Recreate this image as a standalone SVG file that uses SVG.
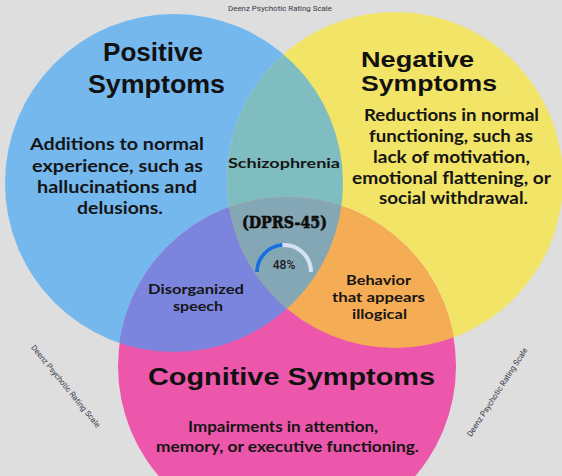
<svg xmlns="http://www.w3.org/2000/svg" width="562" height="476" viewBox="0 0 562 476">
<style>
.title{font-family:"Liberation Sans",Arial,sans-serif;font-weight:700;font-size:24px;fill:#111;}
.body{font-family:Lato,"Open Sans",sans-serif;font-weight:700;font-size:17px;fill:#151515;}
.lab{font-family:Lato,"Open Sans",sans-serif;font-weight:700;font-size:14px;fill:#151515;}
.wm{font-family:"Roboto","Liberation Sans",sans-serif;font-size:8px;fill:#3a3a4a;}
</style>
<defs>
<clipPath id="cBlue"><circle cx="174" cy="183" r="169"/></clipPath>
<clipPath id="cYellow"><circle cx="395" cy="180" r="168"/></clipPath>
</defs>
<rect x="0" y="0" width="562" height="476" fill="#dedede"/>
<g id="circles">
<circle cx="174" cy="183" r="169" fill="#75b8ee"/>
<circle cx="395" cy="180" r="168" fill="#f2e466"/>
<circle cx="287" cy="366" r="169" fill="#ec57ac"/>
<g clip-path="url(#cBlue)">
<circle cx="395" cy="180" r="168" fill="#80bdc1"/>
<circle cx="287" cy="366" r="169" fill="#7c85dd"/>
</g>
<g clip-path="url(#cYellow)">
<circle cx="287" cy="366" r="169" fill="#f5ad55"/>
</g>
<g clip-path="url(#cBlue)"><g clip-path="url(#cYellow)">
<circle cx="287" cy="366" r="169" fill="#84a7b5"/>
</g></g>
</g>
<g id="connectors"/>
<g id="positive">
<text class="title" x="103" y="61" textLength="100" lengthAdjust="spacingAndGlyphs" style="font-size:25px">Positive</text>
<text class="title" x="88" y="93" textLength="137" lengthAdjust="spacingAndGlyphs" style="font-size:25px">Symptoms</text>
<text class="body" x="30" y="150" textLength="174" lengthAdjust="spacingAndGlyphs">Additions to normal</text>
<text class="body" x="32" y="172" textLength="171" lengthAdjust="spacingAndGlyphs">experience, such as</text>
<text class="body" x="37" y="193" textLength="160" lengthAdjust="spacingAndGlyphs">hallucinations and</text>
<text class="body" x="77" y="214" textLength="86" lengthAdjust="spacingAndGlyphs">delusions.</text>
</g>
<g id="negative">
<text class="title" x="361" y="66.5" textLength="113" lengthAdjust="spacingAndGlyphs" style="font-size:22.5px">Negative</text>
<text class="title" x="361" y="91" textLength="136" lengthAdjust="spacingAndGlyphs" style="font-size:22.5px">Symptoms</text>
<text class="body" x="364" y="121" textLength="175" lengthAdjust="spacingAndGlyphs">Reductions in normal</text>
<text class="body" x="369" y="142" textLength="164" lengthAdjust="spacingAndGlyphs">functioning, such as</text>
<text class="body" x="373" y="163" textLength="157" lengthAdjust="spacingAndGlyphs">lack of motivation,</text>
<text class="body" x="352" y="183.5" textLength="199" lengthAdjust="spacingAndGlyphs">emotional flattening, or</text>
<text class="body" x="379" y="204" textLength="149" lengthAdjust="spacingAndGlyphs">social withdrawal.</text>
</g>
<g id="cognitive">
<text class="title" x="148" y="385" textLength="287" lengthAdjust="spacingAndGlyphs">Cognitive Symptoms</text>
<text class="lab" x="188" y="432" textLength="190" lengthAdjust="spacingAndGlyphs" style="font-size:16px">Impairments in attention,</text>
<text class="lab" x="156" y="452" textLength="263" lengthAdjust="spacingAndGlyphs" style="font-size:16px">memory, or executive functioning.</text>
</g>
<g id="schizophrenia">
<text class="lab" x="228" y="168" textLength="112" lengthAdjust="spacingAndGlyphs">Schizophrenia</text>
</g>
<g id="disorganized">
<text class="lab" x="148" y="294" textLength="96" lengthAdjust="spacingAndGlyphs" style="font-size:13.5px">Disorganized</text>
<text class="lab" x="173" y="311" textLength="50" lengthAdjust="spacingAndGlyphs" style="font-size:13.5px">speech</text>
</g>
<g id="behavior">
<text class="lab" x="346" y="285" textLength="65" lengthAdjust="spacingAndGlyphs">Behavior</text>
<text class="lab" x="332" y="302" textLength="93" lengthAdjust="spacingAndGlyphs">that appears</text>
<text class="lab" x="352" y="319" textLength="55" lengthAdjust="spacingAndGlyphs">illogical</text>
</g>
<g id="center">
<text x="242" y="228" textLength="85" lengthAdjust="spacingAndGlyphs" style="font-family:'DejaVu Serif','Liberation Serif',serif;font-weight:900;font-size:16px;fill:#0d0d0d;stroke:#0d0d0d;stroke-width:0.6">(DPRS-45)</text>
<path d="M 257 272 A 27 27 0 0 1 311 272" fill="none" stroke="#d6e2f6" stroke-width="4"/>
<path d="M 257 272 A 27 27 0 0 1 282.3 245.05" fill="none" stroke="#1b6fd8" stroke-width="4"/>
<text x="284" y="269" text-anchor="middle" style="font-family:Roboto,'Liberation Sans',sans-serif;font-weight:500;font-size:12px;fill:#1a1a1a">48%</text>
</g>
<g id="watermarks">
<text class="wm" x="280" y="11" text-anchor="middle" textLength="104" lengthAdjust="spacingAndGlyphs">Deenz Psychotic Rating Scale</text>
<text class="wm" x="0" y="3" text-anchor="middle" textLength="104" lengthAdjust="spacingAndGlyphs" transform="translate(66,386) rotate(50.7)">Deenz Psychotic Rating Scale</text>
<text class="wm" x="0" y="3" text-anchor="middle" textLength="104" lengthAdjust="spacingAndGlyphs" transform="translate(497,392) rotate(-57)">Deenz Psychotic Rating Scale</text>
</g>
</svg>
